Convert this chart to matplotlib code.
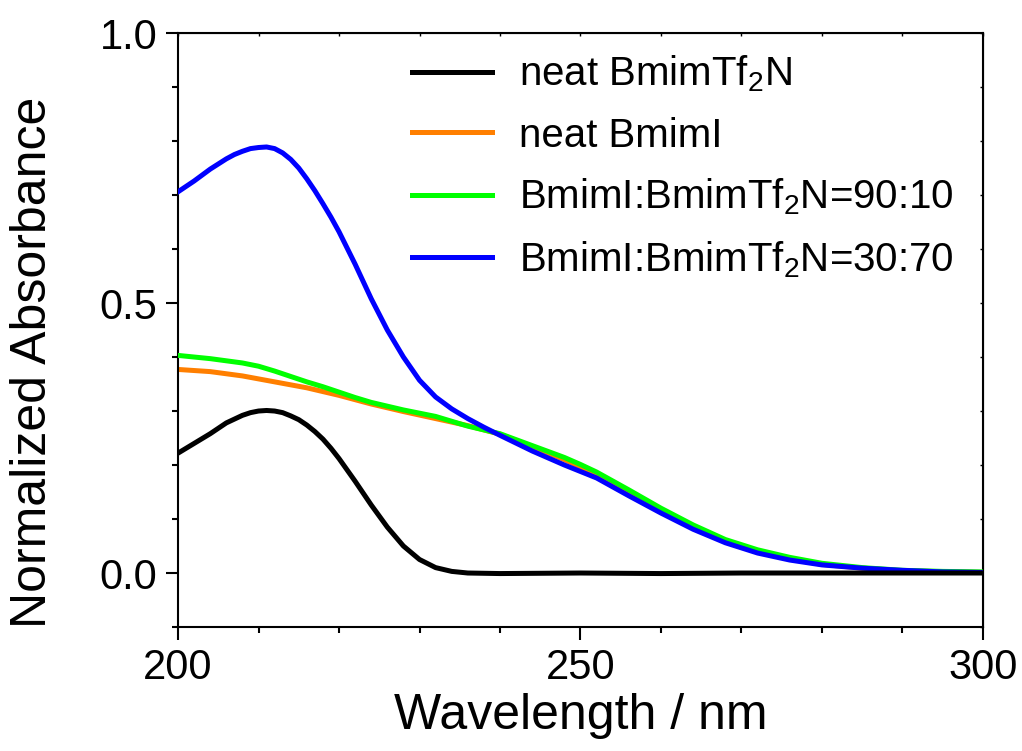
import numpy as np
import matplotlib
matplotlib.use("Agg")
import matplotlib.pyplot as plt
from matplotlib.ticker import MultipleLocator

plt.rcParams["font.family"] = ["Liberation Sans", "DejaVu Sans"]
plt.rcParams["mathtext.fontset"] = "custom"
plt.rcParams["mathtext.rm"] = "Liberation Sans"
plt.rcParams["mathtext.it"] = "Liberation Sans"

# values
wl_black = [200, 202, 204, 206, 208, 209, 210, 211, 212, 213, 214, 215, 216, 217, 218, 219,
            220, 222, 224, 226, 228, 230, 232, 234, 236, 240, 250, 260, 270, 280, 290, 300]
abs_black = [0.222, 0.240, 0.258, 0.278, 0.292, 0.297, 0.300, 0.301, 0.300, 0.297, 0.291,
             0.284, 0.274, 0.262, 0.248, 0.231, 0.212, 0.170, 0.126, 0.085, 0.050, 0.025,
             0.010, 0.003, 0.000, -0.001, 0.000, -0.001, 0.000, 0.000, 0.000, 0.000]

wl_orange = [200, 204, 208, 212, 216, 220, 224, 228, 232, 236, 240, 244, 248, 252, 256,
             260, 264, 268, 272, 276, 280, 285, 290, 300]
abs_orange = [0.377, 0.373, 0.365, 0.354, 0.343, 0.329, 0.313, 0.299, 0.286, 0.273, 0.257,
              0.234, 0.210, 0.183, 0.150, 0.116, 0.086, 0.059, 0.040, 0.026, 0.016, 0.009,
              0.004, 0.001]

wl_green = [200, 202, 204, 206, 208, 210, 212, 214, 216, 218, 220, 222, 224, 226, 228, 230,
            232, 234, 236, 238, 240, 244, 248, 250, 252, 256, 260, 264, 268, 272, 276, 280,
            285, 290, 295, 300]
abs_green = [0.403, 0.400, 0.397, 0.393, 0.389, 0.383, 0.374, 0.364, 0.354, 0.345, 0.335,
             0.325, 0.316, 0.309, 0.302, 0.296, 0.290, 0.281, 0.272, 0.265, 0.258, 0.236,
             0.214, 0.201, 0.187, 0.154, 0.120, 0.089, 0.062, 0.043, 0.029, 0.018, 0.010,
             0.005, 0.003, 0.002]

wl_blue = [200, 202, 204, 206, 207, 208, 209, 210, 211, 212, 213, 214, 215, 216, 217, 218,
           219, 220, 222, 224, 226, 228, 230, 232, 234, 236, 238, 240, 244, 248, 250, 252,
           256, 260, 264, 268, 272, 276, 280, 285, 290, 295, 300]
abs_blue = [0.706, 0.726, 0.748, 0.767, 0.775, 0.781, 0.786, 0.788, 0.789, 0.786, 0.778,
            0.766, 0.750, 0.730, 0.708, 0.684, 0.659, 0.632, 0.572, 0.508, 0.450, 0.400,
            0.357, 0.326, 0.304, 0.286, 0.270, 0.255, 0.226, 0.200, 0.188, 0.176, 0.143,
            0.111, 0.081, 0.056, 0.037, 0.024, 0.015, 0.009, 0.005, 0.002, 0.001]

labels = ["neat BmimTf$_2$N", "neat BmimI", "BmimI:BmimTf$_2$N=90:10",
          "BmimI:BmimTf$_2$N=30:70"]
colors = ["#000000", "#ff7f00", "#00ff00", "#0000ff"]

fig = plt.figure(figsize=(10.22, 7.51), dpi=100)
ax = fig.add_axes([0.1742, 0.1651, 0.9618 - 0.1742, 0.956 - 0.1651])

lw = 3.6
ax.plot(wl_black, abs_black, color=colors[0], lw=lw, label=labels[0], zorder=5)
ax.plot(wl_orange, abs_orange, color=colors[1], lw=lw, label=labels[1], zorder=2)
ax.plot(wl_green, abs_green, color=colors[2], lw=lw, label=labels[2], zorder=3)
ax.plot(wl_blue, abs_blue, color=colors[3], lw=lw, label=labels[3], zorder=4)

ax.set_xlim(200, 300)
ax.set_ylim(-0.1, 1.0)
ax.xaxis.set_major_locator(MultipleLocator(50))
ax.xaxis.set_minor_locator(MultipleLocator(10))
ax.yaxis.set_major_locator(MultipleLocator(0.5))
ax.yaxis.set_minor_locator(MultipleLocator(0.1))
ax.yaxis.set_major_formatter(plt.FuncFormatter(lambda v, p: f"{v:.1f}"))

for s in ax.spines.values():
    s.set_linewidth(1.5)
ax.tick_params(which="major", direction="out", length=9, width=1.5, labelsize=30, pad=6)
ax.tick_params(which="minor", direction="out", length=4.5, width=1.5)

# small inward ticks on top and right
top = ax.secondary_xaxis("top")
top.xaxis.set_major_locator(MultipleLocator(10))
top.tick_params(direction="in", length=2, width=1, labeltop=False)
right = ax.secondary_yaxis("right")
right.yaxis.set_major_locator(MultipleLocator(0.1))
right.tick_params(direction="in", length=2, width=1, labelright=False)

ax.set_xlabel("Wavelength / nm", fontsize=36, labelpad=4)
ax.set_ylabel("Normalized Absorbance", fontsize=36)
ax.yaxis.set_label_coords(-0.152, 0.445)

leg = ax.legend(loc="upper left", bbox_to_anchor=(0.291, 0.965), frameon=False,
                fontsize=29, handlelength=1.99, handletextpad=0.65, labelspacing=0.55,
                borderpad=0, borderaxespad=0)

fig.savefig("out.png", dpi=100)
